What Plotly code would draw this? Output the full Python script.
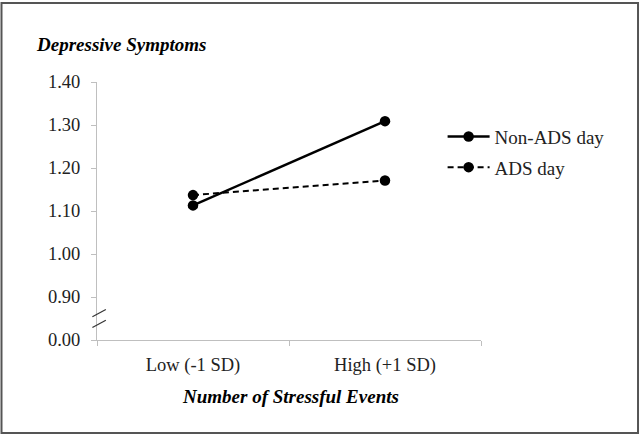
import plotly.graph_objects as go

categories = ["Low (-1 SD)", "High (+1 SD)"]
non_ads = [1.113, 1.309]
ads = [1.137, 1.171]
y_tickvals = [0.8, 0.9, 1.0, 1.1, 1.2, 1.3, 1.4]
y_ticktext = ["0.00", "0.90", "1.00", "1.10", "1.20", "1.30", "1.40"]

font_family = "Liberation Serif"

fig = go.Figure()
fig.add_trace(go.Scatter(
    x=categories, y=non_ads, name="Non-ADS day", mode="lines+markers",
    legendgroup="a",
    line=dict(color="black", width=2.5),
    marker=dict(color="black", size=10.5),
))
fig.add_trace(go.Scatter(
    x=categories, y=ads, name="ADS day", mode="lines+markers",
    legendgroup="b",
    line=dict(color="black", width=2, dash="6px,4px"),
    marker=dict(color="black", size=10.5),
))

fig.update_layout(
    width=640, height=435,
    margin=dict(l=97, r=159, t=82, b=95),
    paper_bgcolor="white", plot_bgcolor="white",
    font=dict(family=font_family, size=18.5, color="black"),
    showlegend=True,
    legend=dict(x=0.90, y=0.862, xanchor="left", yanchor="top",
                bgcolor="rgba(0,0,0,0)", font=dict(size=19, color="#222"),
                itemwidth=42, tracegroupgap=3),
    xaxis=dict(
        type="category", range=[-0.5, 1.5], tickson="boundaries",
        showline=True, linecolor="#bfbfbf", linewidth=1,
        ticks="outside", ticklen=5, tickcolor="#bfbfbf",
        showgrid=False, zeroline=False, ticklabelstandoff=8,
        tickfont=dict(size=18.5, color="#222"),
    ),
    yaxis=dict(
        range=[0.8, 1.4], tickvals=y_tickvals, ticktext=y_ticktext,
        showline=True, linecolor="#bfbfbf", linewidth=1,
        ticks="outside", ticklen=5, tickcolor="#bfbfbf",
        showgrid=False, zeroline=False, ticklabelstandoff=7,
        tickfont=dict(size=18.5, color="#222"),
    ),
)

# axis break marks
for y0, y1 in [(0.854, 0.871), (0.829, 0.846)]:
    fig.add_shape(type="line", xref="paper", yref="y",
                  x0=-0.012, x1=0.023, y0=y0, y1=y1,
                  line=dict(color="#333", width=1.2))

# outer border
fig.add_shape(type="rect", xref="paper", yref="paper",
              x0=-0.2487, x1=1.4089, y0=-0.360, y1=1.3066,
              line=dict(color="#555", width=2))

fig.add_annotation(text="<b><i>Depressive Symptoms</i></b>", xref="paper", yref="paper",
                   x=-0.163, y=1.146, xanchor="left", yanchor="middle",
                   showarrow=False, font=dict(size=19, color="black"))
fig.add_annotation(text="<b><i>Number of Stressful Events</i></b>", xref="paper", yref="paper",
                   x=0.505, y=-0.22, xanchor="center", yanchor="middle",
                   showarrow=False, font=dict(size=19, color="black"))

fig.write_html("out.html", post_script="document.body.style.margin='0';",
               config={"displayModeBar": False})
